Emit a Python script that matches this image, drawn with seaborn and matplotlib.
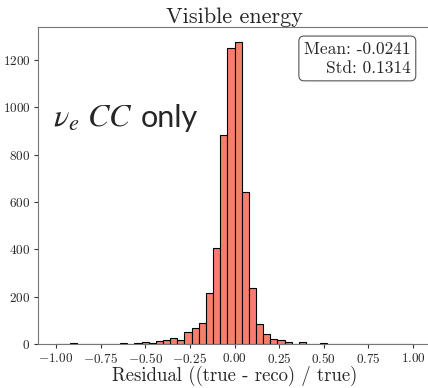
import numpy as np
import pandas as pd
import matplotlib
matplotlib.use("Agg")
import matplotlib.pyplot as plt
import seaborn as sns

# ---- data ----
bin_edges = [round(-1.0 + 0.04 * i, 2) for i in range(51)]
counts = [0, 1, 3, 1, 2, 2, 1, 1, 2, 4,
          2, 4, 8, 5, 14, 17, 24, 17, 49, 66,
          90, 216, 407, 883, 1252, 1275, 641, 236, 86, 42,
          21, 17, 9, 2, 7, 2, 1, 4, 2, 1,
          2, 2, 1, 2, 1, 2, 0, 1, 0, 0]
x_ticks = [-1.0, -0.75, -0.5, -0.25, 0.0, 0.25, 0.5, 0.75, 1.0]
y_ticks = [0, 200, 400, 600, 800, 1000, 1200]
title = "Visible energy"
xlabel = "Residual ((true - reco) / true)"
stats_text = "Mean: -0.0241\nStd: 0.1314"
sample_math = r"$\nu_e\ CC$"
sample_word = "only"

centers = [(bin_edges[i] + bin_edges[i + 1]) / 2 for i in range(len(counts))]
df = pd.DataFrame({"residual": centers, "count": counts})

sns.set_style("ticks")
plt.rcParams["font.family"] = ["cmr10", "DejaVu Serif"]
plt.rcParams["mathtext.fontset"] = "cm"
plt.rcParams["axes.formatter.use_mathtext"] = True
plt.rcParams["axes.unicode_minus"] = True

W, H = 428, 388
fig = plt.figure(figsize=(W / 100, H / 100), dpi=100)
ax = fig.add_axes([38 / W, 1 - 344 / H, 393 / W, 317 / H])

sns.histplot(data=df, x="residual", weights="count", bins=bin_edges,
             color="#F77E6C", edgecolor="black", linewidth=0.8, alpha=1.0, ax=ax)

ax.set_xlim(-1.1, 1.1)
ax.set_ylim(0, 1.05 * max(counts))
ax.set_xticks(x_ticks)
ax.set_yticks(y_ticks)
ax.tick_params(labelsize=9.5, length=3, width=0.8, color="#333333", pad=2.5)
for s in ax.spines.values():
    s.set_color("#777777")
    s.set_linewidth(0.8)

ax.set_title(title, fontsize=16, pad=3)
ax.set_xlabel(xlabel, fontsize=13.5, labelpad=0)
ax.set_ylabel("")

ax.text(0.948, 0.955, stats_text, transform=ax.transAxes, ha="right", va="top",
        fontsize=12.5, multialignment="right", linespacing=1.3,
        bbox=dict(boxstyle="round,pad=0.3", fc="white", ec="#555555", lw=0.8))

fig.text(53 / W, 1 - 127 / H, sample_math, fontsize=23,
         math_fontfamily="stix", va="baseline", ha="left")
fig.text(141 / W, 1 - 127 / H, sample_word, fontsize=22,
         family=["Lato", "DejaVu Sans"], va="baseline", ha="left")

fig.savefig("out.png", dpi=100)
